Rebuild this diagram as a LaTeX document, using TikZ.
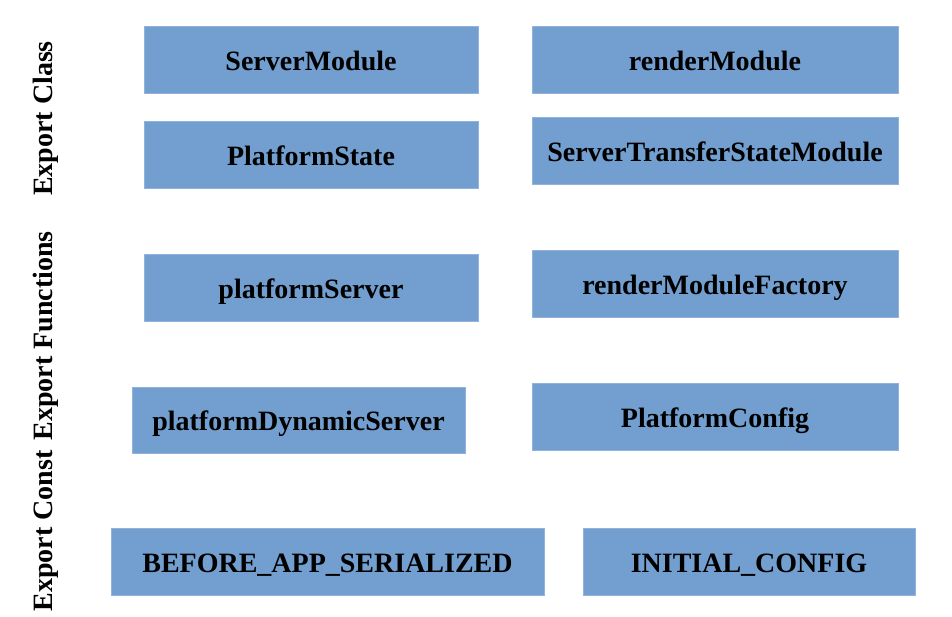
\documentclass[tikz,border=0pt]{standalone}
\usepackage{fontspec}
\setmainfont{Liberation Serif}
\definecolor{boxblue}{HTML}{729FCF}
\definecolor{boxedge}{HTML}{8FB3DA}
\tikzset{
  x=1pt, y=-1pt,
  boxstyle/.style={fill=boxblue, draw=boxedge, line width=0.6pt},
  boxtext/.style={font=\bfseries\fontsize{28}{32}\selectfont, anchor=base, inner sep=0pt},
  grouplabel/.style={font=\bfseries\fontsize{28}{32}\selectfont, anchor=base, rotate=90, inner sep=0pt}
}
\newcommand{\exbox}[6]{%
  \path[boxstyle] (#2,#3) rectangle (#4,#5);
  \node[boxtext] (#1) at ({(#2+#4)/2},{(#3+#5)/2+10.5}) {#6};
}
\begin{document}
\begin{tikzpicture}
\useasboundingbox (0,0) rectangle (952,616);
% left column
\exbox{serverModule}{144}{26}{478}{93}{ServerModule}
\exbox{platformState}{144}{121}{478}{188}{PlatformState}
\exbox{platformServer}{144}{254}{478}{321}{platformServer}
\exbox{platformDynamicServer}{132}{387}{465}{453}{platformDynamicServer}
\exbox{beforeApp}{111}{528}{544}{595.5}{BEFORE\_APP\_SERIALIZED}
% right column
\exbox{renderModule}{532}{26}{898}{93}{renderModule}
\exbox{serverTransfer}{532}{117.5}{898}{184}{ServerTransferStateModule}
\exbox{renderModuleFactory}{532}{250}{898}{317}{renderModuleFactory}
\exbox{platformConfig}{532}{383}{898}{450}{PlatformConfig}
\exbox{initialConfig}{583}{528}{915}{595.5}{INITIAL\_CONFIG}
% group labels
\node[grouplabel] (lblClass) at (52,118.5) {Export Class};
\node[grouplabel] (lblFunctions) at (52,336) {Export Functions};
\node[grouplabel] (lblConst) at (52,531) {Export Const};
\end{tikzpicture}
\end{document}
